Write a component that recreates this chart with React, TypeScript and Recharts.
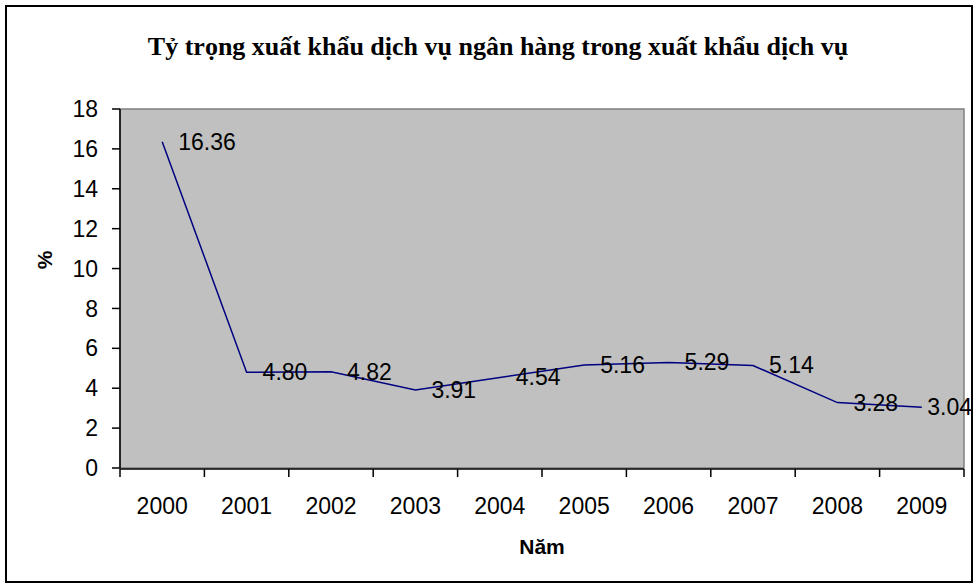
import { LineChart, Line, XAxis, YAxis, ReferenceArea, LabelList } from 'recharts';

// Tỷ trọng xuất khẩu dịch vụ ngân hàng (%)
const years = ['2000', '2001', '2002', '2003', '2004', '2005', '2006', '2007', '2008', '2009'];
const shares = [16.36, 4.8, 4.82, 3.91, 4.54, 5.16, 5.29, 5.14, 3.28, 3.04];
const yTicks = [0, 2, 4, 6, 8, 10, 12, 14, 16, 18];

// idx = middle of each category band on the 0..10 "edges" axis
const data = years.map((year, i) => ({ year, share: shares[i], idx: i + 0.5 }));
const bandEdges = years.map((_, i) => i).concat(years.length);

const FONT = '"Liberation Sans", Arial, sans-serif';
const LABEL_SIZE = 23;
const CHART_RIGHT = 972;

// Excel-style "right" data label, pushed back inside the chart area
function PointLabel(props: any) {
    const { x, y, value } = props;
    const text = Number(value).toFixed(2);
    const w = text.length * LABEL_SIZE * 0.5;
    let lx = x + 16;
    let anchor: 'start' | 'end' = 'start';
    if (lx + w > CHART_RIGHT) {
        lx = CHART_RIGHT;
        anchor = 'end';
    }
    return (
        <text x={lx} y={y} textAnchor={anchor} dominantBaseline="central"
            fontFamily={FONT} fontSize={LABEL_SIZE} fill="#000">
            {text}
        </text>
    );
}

export default function App() {
    return (
        <div style={{ position: 'absolute', left: 0, top: 0, width: 975, height: 585, background: '#fff' }}>
            <div style={{
                position: 'absolute', left: 5, top: 5, width: 964, height: 574,
                border: '2px solid #000', boxSizing: 'content-box'
            }} />
            <div style={{
                position: 'absolute', left: 0, top: 31, width: 996, textAlign: 'center',
                fontFamily: '"Liberation Serif", "Times New Roman", serif', fontWeight: 'bold', fontSize: 26,
                lineHeight: '32px', color: '#000'
            }}>
                Tỷ trọng xuất khẩu dịch vụ ngân hàng trong xuất khẩu dịch vụ
            </div>
            <div style={{
                position: 'absolute', left: 30, top: 246, width: 30, height: 28, lineHeight: '28px',
                textAlign: 'center', transform: 'rotate(-90deg)',
                fontFamily: FONT, fontWeight: 'bold', fontSize: 21, color: '#000'
            }}>
                %
            </div>
            <div style={{
                position: 'absolute', left: 442, top: 533, width: 200, textAlign: 'center', lineHeight: '28px',
                fontFamily: FONT, fontWeight: 'bold', fontSize: 21, color: '#000'
            }}>
                Năm
            </div>
            <div style={{ position: 'absolute', left: 0, top: 0 }}>
                <LineChart width={975} height={585} data={data}
                    margin={{ top: 109, right: 11, bottom: 58, left: 60 }}>
                    {/* category labels sit on a 1px-high axis so the tick axis hugs the plot */}
                    <XAxis dataKey="year" scale="band" height={1} axisLine={false} tickLine={false}
                        tickSize={8} tickMargin={22} interval={0}
                        tick={{ fill: '#000', fontSize: 23, fontFamily: FONT }} />
                    <XAxis xAxisId="edges" type="number" dataKey="idx" domain={[0, 10]} ticks={bandEdges}
                        allowDataOverflow height={58} tickFormatter={() => ''} tickSize={8} interval={0}
                        axisLine={{ stroke: '#000', strokeWidth: 1.5 }} tickLine={{ stroke: '#000', strokeWidth: 1.5 }} />
                    <YAxis domain={[0, 18]} ticks={yTicks} width={60} interval={0} tickSize={8} tickMargin={14}
                        axisLine={{ stroke: '#000', strokeWidth: 1.5 }} tickLine={{ stroke: '#000', strokeWidth: 1.5 }}
                        tick={{ fill: '#000', fontSize: 23, fontFamily: FONT }} />
                    <ReferenceArea xAxisId="edges" x1={0} x2={10} y1={0} y2={18} ifOverflow="visible"
                        fill="#C0C0C0" fillOpacity={1} stroke="#808080" strokeWidth={1.5} />
                    <Line type="linear" dataKey="share" stroke="#000080" strokeWidth={1.5}
                        dot={false} isAnimationActive={false}>
                        <LabelList dataKey="share" content={PointLabel} />
                    </Line>
                </LineChart>
            </div>
        </div>
    );
}
